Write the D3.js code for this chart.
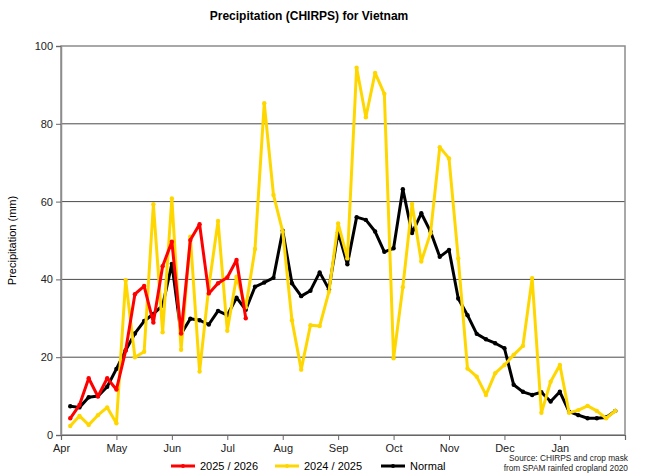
<!DOCTYPE html>
<html>
<head>
<meta charset="utf-8">
<script src="https://cdn.jsdelivr.net/npm/d3@7"></script>
<style>
  body { margin: 0; background: #fff; }
  svg { font-family: "Liberation Sans", Arial, sans-serif; }
  .tick text { font-size: 11px; fill: #222; }
</style>
</head>
<body>
<div id="chart"></div>
<script>
// pentad values, Apr 1st pentad onward
const season2526 = [4.3, 7.7, 14.6, 9.9, 14.6, 11.7, 21.7, 36.2, 38.3, 28.9, 43.4, 49.7, 26.1, 50.1, 54.2, 36.4, 39.0, 40.5, 45.0, 30.0];

const season2425 = [2.3, 4.9, 2.6, 5.1, 7.1, 3.0, 39.8, 20.0, 21.4, 59.3, 26.4, 60.8, 21.9, 51.0, 16.3, 38.1, 55.0, 26.8, 40.7, 32.8,
  47.8, 85.3, 61.7, 52.3, 29.5, 16.8, 28.2, 28.0, 36.8, 54.4, 45.4, 94.4, 81.7, 93.1, 87.7, 19.7, 38.0, 59.4, 44.6, 51.9,
  74.0, 71.1, 45.4, 17.1, 15.0, 10.3, 15.9, 18.0, 20.6, 22.9, 40.3, 5.7, 13.7, 18.0, 5.7, 6.4, 7.5, 6.2, 4.3, 6.2];

const normal = [7.4, 7.1, 9.7, 10.0, 12.4, 17.0, 21.8, 26.1, 29.3, 31.1, 33.3, 44.0, 26.0, 29.9, 29.5, 28.4, 31.9, 30.8, 35.3, 32.2,
  38.1, 39.2, 40.4, 52.5, 39.0, 35.7, 37.1, 41.8, 37.5, 52.1, 43.9, 56.0, 55.3, 52.3, 47.1, 48.0, 63.2, 51.9, 57.0, 52.3,
  45.8, 47.6, 35.1, 30.8, 26.0, 24.6, 23.6, 22.3, 12.9, 11.1, 10.3, 11.0, 8.6, 11.1, 6.0, 5.1, 4.3, 4.3, 4.5, 6.2];

const months = ["Apr", "May", "Jun", "Jul", "Aug", "Sep", "Oct", "Nov", "Dec", "Jan"];
const yTicks = [0, 20, 40, 60, 80, 100];

const W = 646, H = 473;
const margin = {top: 46, right: 21, bottom: 38, left: 61};
const width = W - margin.left - margin.right,
      height = H - margin.top - margin.bottom;

const svg = d3.select("#chart").append("svg")
    .attr("width", W)
    .attr("height", H);

const g = svg.append("g")
    .attr("transform", "translate(" + margin.left + "," + margin.top + ")");

// one month = 6 pentads, Apr tick sits one pentad before first point
const x = d3.scaleLinear().domain([-1, 60.05]).range([0, width]);
const y = d3.scaleLinear().domain([0, 100]).range([height, 0]);

// grid
g.append("g")
  .selectAll("line")
  .data(yTicks.filter(d => d > 0 && d < 100))
  .enter().append("line")
    .attr("x1", 0).attr("x2", width)
    .attr("y1", d => y(d)).attr("y2", d => y(d))
    .attr("stroke", "#4a4a4a")
    .attr("stroke-width", 1);

// frame
g.append("rect")
    .attr("width", width).attr("height", height)
    .attr("fill", "none")
    .attr("stroke", "#8c8c8c")
    .attr("stroke-width", 1.5);

// axes
const yAxis = g.append("g")
    .call(d3.axisLeft(y).tickValues(yTicks).tickSize(5).tickPadding(3));
yAxis.select(".domain").attr("stroke", "#8c8c8c").attr("stroke-width", 1.5);
yAxis.selectAll(".tick line").attr("stroke", "#666");

const xAxis = g.append("g")
    .attr("transform", "translate(0," + height + ")")
    .call(d3.axisBottom(x)
      .tickValues(months.map((m, i) => -1 + i * 6))
      .tickFormat((d, i) => months[i])
      .tickSize(5).tickPadding(4));
xAxis.select(".domain").attr("stroke", "#666").attr("stroke-width", 1.2);
xAxis.selectAll(".tick line").attr("stroke", "#666");
xAxis.selectAll(".tick text").attr("font-size", "11px");

// series, normal first so the seasons sit on top
const series = [
  {name: "Normal", values: normal, color: "#000000"},
  {name: "2024 / 2025", values: season2425, color: "#ffd700"},
  {name: "2025 / 2026", values: season2526, color: "#ff0000"}
];

const line = d3.line()
    .x((d, i) => x(i))
    .y(d => y(d));

series.forEach(s => {
  g.append("path")
      .datum(s.values)
      .attr("fill", "none")
      .attr("stroke", s.color)
      .attr("stroke-width", 3)
      .attr("stroke-linejoin", "round")
      .attr("d", line);
  g.append("g")
    .selectAll("circle")
    .data(s.values)
    .enter().append("circle")
      .attr("cx", (d, i) => x(i))
      .attr("cy", d => y(d))
      .attr("r", 2.2)
      .attr("fill", s.color);
});

// title
svg.append("text")
    .attr("x", 309).attr("y", 20)
    .attr("text-anchor", "middle")
    .attr("font-size", "12px")
    .attr("font-weight", "bold")
    .text("Precipitation (CHIRPS) for Vietnam");

// y label
svg.append("text")
    .attr("transform", "translate(16," + (margin.top + height / 2) + ") rotate(-90)")
    .attr("text-anchor", "middle")
    .attr("font-size", "11px")
    .text("Precipitation (mm)");

// legend
const legendItems = [
  {name: "2025 / 2026", color: "#ff0000", x: 171},
  {name: "2024 / 2025", color: "#ffd700", x: 275},
  {name: "Normal", color: "#000000", x: 381}
];
const lg = svg.append("g").attr("transform", "translate(0,466)");
legendItems.forEach(d => {
  lg.append("line")
      .attr("x1", d.x).attr("x2", d.x + 24)
      .attr("stroke", d.color).attr("stroke-width", 3);
  lg.append("circle").attr("cx", d.x + 12).attr("r", 2).attr("fill", d.color);
  lg.append("text")
      .attr("x", d.x + 29).attr("y", 4)
      .attr("font-size", "11px")
      .text(d.name);
});

// source note
const src = svg.append("text")
    .attr("text-anchor", "end")
    .attr("font-size", "8.3px")
    .attr("fill", "#222");
src.append("tspan").attr("x", 628).attr("y", 461).text("Source: CHIRPS and crop mask");
src.append("tspan").attr("x", 628).attr("y", 471).text("from SPAM rainfed cropland 2020");
</script>
</body>
</html>
